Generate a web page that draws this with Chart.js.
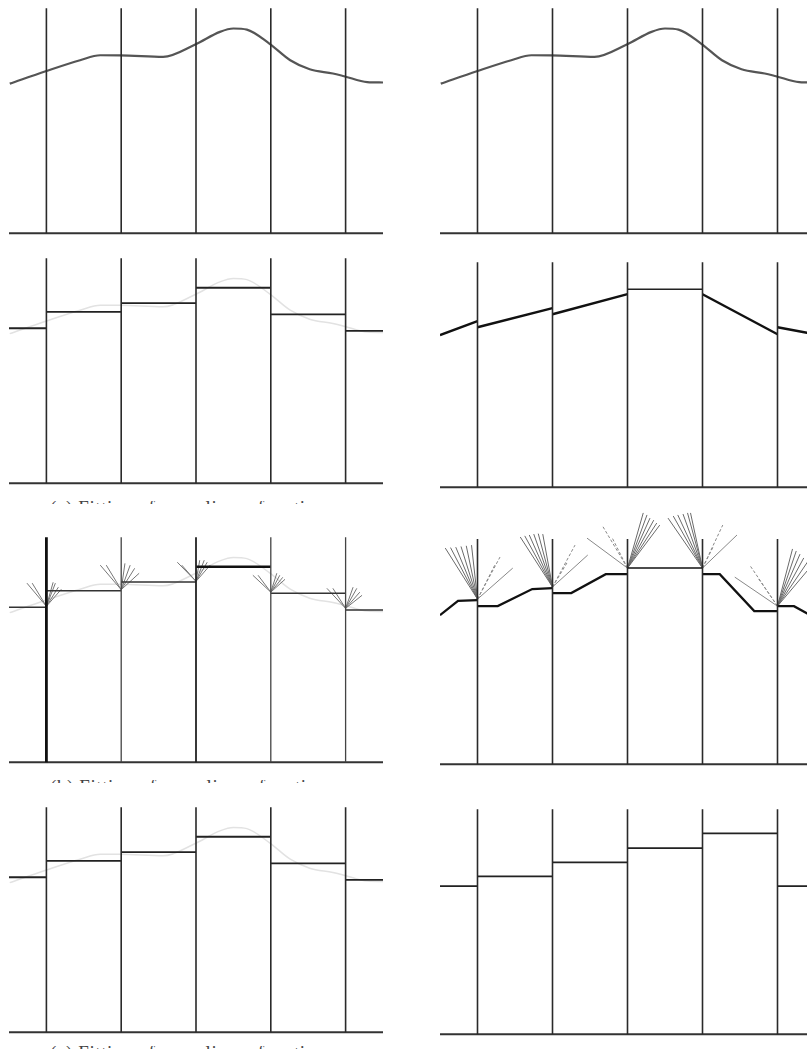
<!DOCTYPE html>
<html>
<head>
<meta charset="utf-8">
<script src="https://cdn.jsdelivr.net/npm/chart.js@4.4.0/dist/chart.umd.min.js"></script>
<style>
  html, body { margin: 0; padding: 0; background: #fff; }
  body { width: 807px; height: 1055px; position: relative; overflow: hidden; }
  canvas { position: absolute; }
  .cap { position: absolute; left: 50px; width: 290px; height: 3px; overflow: hidden; }
  .cap span { display: block; margin-top: -3px; font: 19px "Liberation Serif", serif; color: #444; line-height: 19px; white-space: nowrap; letter-spacing: 0.6px; }
</style>
</head>
<body>
<div class="cap" style="top:501px"><span>(a) Fitting of a nonlinear function</span></div>
<div class="cap" style="top:780px"><span>(b) Fitting of a nonlinear function</span></div>
<div class="cap" style="top:1046px"><span>(c) Fitting of a nonlinear function</span></div>
<script>
// --- data ---
const breaks = [1, 2, 3, 4, 5];
const edges = [0.5, 1, 2, 3, 4, 5, 5.5];
const lineTop = 10;

// smooth signal (top row, faint copy behind the left fits)
const curveX = [0.51, 0.99, 1.45, 1.72, 1.98, 2.56, 2.99, 3.32, 3.5, 3.68, 3.98, 4.26, 4.52, 4.83, 4.98, 5.29, 5.5];
const curveY = [6.65, 7.2, 7.69, 7.91, 7.91, 7.84, 8.39, 8.95, 9.1, 9.05, 8.43, 7.69, 7.29, 7.1, 6.98, 6.72, 6.7];

// left column: piecewise constant level per interval
const stepLevels = [6.89, 7.62, 8.01, 8.69, 7.51, 6.77];

// right column, 2nd row: piecewise linear (start / end per interval)
const linStart = [6.76, 7.11, 7.69, 8.8, 8.58, 7.11];
const linEnd = [7.38, 7.96, 8.58, 8.8, 6.8, 6.8];

// right column, 3rd row: flat-slope-flat pieces per interval
const quantX = [
  [0.5, 0.74, 1],
  [1, 1.27, 1.73, 2],
  [2, 2.25, 2.71, 3],
  [3, 4],
  [4, 4.23, 4.69, 5],
  [5, 5.22, 5.5]
];
const quantY = [
  [6.62, 7.25, 7.29],
  [7.02, 7.02, 7.78, 7.82],
  [7.6, 7.6, 8.44, 8.44],
  [8.71, 8.71],
  [8.44, 8.44, 6.8, 6.8],
  [7.02, 7.02, 6.5]
];

// right column, 4th row: constant levels
const stepLevelsR4 = [6.58, 7.02, 7.64, 8.27, 8.93, 6.58];

// fans on the left 3rd row (origin height + ends)
const fanLOrigin = [6.93, 7.67, 8.04, 7.56, 6.84];
const fanLEndX = [
  [0.74, 0.81, 1.09, 1.12, 1.16, 1.2],
  [1.72, 1.8, 2.05, 2.12, 2.18, 2.24],
  [2.75, 2.81, 3.05, 3.11, 3.15, 3.19],
  [3.76, 3.83, 4.08, 4.12, 4.16, 4.19],
  [4.75, 4.83, 5.1, 5.15, 5.19, 5.22]
];
const fanLEndY = [
  [7.96, 7.96, 8.0, 7.96, 7.78, 7.69],
  [8.76, 8.76, 8.84, 8.76, 8.62, 8.4],
  [8.89, 8.76, 8.98, 8.98, 8.89, 8.76],
  [8.31, 8.31, 8.4, 8.31, 8.22, 8.13],
  [7.73, 7.73, 7.78, 7.73, 7.56, 7.42]
];

// fans on the right 3rd row: bundle, two dashed rays, one solid ray
const fanROrigin = [7.33, 7.87, 8.71, 8.71, 7.02];
const bundleX = [
  [0.57, 0.64, 0.71, 0.78, 0.85, 0.92],
  [1.57, 1.63, 1.69, 1.75, 1.81, 1.87],
  [3.21, 3.26, 3.3, 3.35, 3.39, 3.43],
  [3.54, 3.61, 3.67, 3.74, 3.8, 3.84],
  [5.2, 5.25, 5.3, 5.35, 5.4, 5.45]
];
const bundleY = [
  [9.6, 9.62, 9.64, 9.67, 9.7, 9.73],
  [10.09, 10.14, 10.18, 10.22, 10.24, 10.22],
  [11.16, 11.07, 10.93, 10.84, 10.71, 10.62],
  [10.93, 11.02, 11.07, 11.11, 11.16, 11.16],
  [9.56, 9.47, 9.33, 9.16, 8.98, 8.8]
];
const dashX = [[1.23, 1.3], [2.2, 2.3], [2.66, 2.79], [4.14, 4.27], [4.63, 4.74]];
const dashY = [[8.84, 9.2], [8.98, 9.73], [10.62, 10.09], [9.64, 10.62], [8.84, 8.27]];
const rayX = [1.47, 2.47, 2.46, 4.46, 4.43];
const rayY = [8.71, 9.29, 10.04, 10.18, 8.31];

// --- helpers ---
const UNIT = 22.5;
const Y_MIN = -0.3;

function line(data, color, width, extra) {
  return Object.assign({
    data: data, showLine: true, pointRadius: 0, borderColor: color,
    borderWidth: width, fill: false, tension: 0, spanGaps: false
  }, extra || {});
}

function segs(list) {
  // list of [x1, y1, x2, y2] -> points with gaps
  return list.flatMap(s => [{ x: s[0], y: s[1] }, { x: s[2], y: s[3] }, { x: s[2], y: null }]);
}

function verticals(color, width) {
  return line(segs(breaks.map(b => [b, 0, b, lineTop])), color, width);
}
function baseline() {
  return line([{ x: edges[0], y: 0 }, { x: edges[edges.length - 1], y: 0 }], '#333', 2);
}
function curve(color, width) {
  return line(curveX.map((x, i) => ({ x: x, y: curveY[i] })), color, width, { cubicInterpolationMode: 'monotone' });
}
function steps(levels, color, width) {
  return line(segs(levels.map((v, i) => [edges[i], v, edges[i + 1], v])), color, width);
}

function drawPanel(p, datasets) {
  const c = document.createElement('canvas');
  const top = p.base - p.yMax * UNIT;
  c.width = p.width;
  c.height = Math.round((p.yMax - Y_MIN) * UNIT);
  c.style.left = p.left + 'px';
  c.style.top = top + 'px';
  document.body.appendChild(c);
  new Chart(c, {
    type: 'scatter',
    data: { datasets: datasets },
    options: {
      responsive: false,
      animation: false,
      events: [],
      layout: { padding: 0 },
      plugins: { legend: { display: false }, tooltip: { enabled: false } },
      scales: {
        x: { type: 'linear', display: false, min: 0.5, max: 5.5 },
        y: { display: false, min: Y_MIN, max: p.yMax }
      }
    }
  });
}

const L = { left: 9, width: 374 };
const R = { left: 440, width: 375 };

// row 1: smooth signal
drawPanel({ ...L, base: 233, yMax: 10.5 }, [verticals('#2a2a2a', 1.6), baseline(), curve('#555', 2.2)]);
drawPanel({ ...R, base: 233, yMax: 10.5 }, [verticals('#2a2a2a', 1.6), baseline(), curve('#555', 2.2)]);

// row 2
drawPanel({ ...L, base: 483, yMax: 10.5 }, [
  verticals('#2a2a2a', 1.6), baseline(), steps(stepLevels, '#222', 1.8), curve('#e2e2e2', 1.5)
]);
drawPanel({ ...R, base: 487, yMax: 10.5 }, [
  verticals('#2a2a2a', 1.6), baseline(),
  line(segs(linStart.map((v, i) => [edges[i], v, edges[i + 1], linEnd[i]]).filter((s, i) => i !== 3)), '#111', 2.4),
  line([{ x: edges[3], y: linStart[3] }, { x: edges[4], y: linEnd[3] }], '#222', 1.5)
]);

// row 3: fans
const fanSegsL = fanLOrigin.flatMap((o, i) => fanLEndX[i].map((ex, j) => [breaks[i], o, ex, fanLEndY[i][j]]));
drawPanel({ ...L, base: 762, yMax: 10.5 }, [
  line(segs([[1, 0, 1, lineTop]]), '#111', 2.8),
  line(segs([[3, 0, 3, lineTop]]), '#222', 1.8),
  line(segs([[2, 0, 2, lineTop], [4, 0, 4, lineTop], [5, 0, 5, lineTop]]), '#444', 1.3),
  baseline(),
  line(segs(stepLevels.map((v, i) => [edges[i], v, edges[i + 1], v]).filter((s, i) => i !== 3)), '#333', 1.6),
  line([{ x: edges[3], y: stepLevels[3] }, { x: edges[4], y: stepLevels[3] }], '#111', 2.6),
  line(segs(fanSegsL), '#777', 1),
  curve('#e2e2e2', 1.5)
]);

const bundleSegs = fanROrigin.flatMap((o, i) => bundleX[i].map((ex, j) => [breaks[i], o, ex, bundleY[i][j]]));
const dashSegs = fanROrigin.flatMap((o, i) => dashX[i].map((ex, j) => [breaks[i], o, ex, dashY[i][j]]));
const raySegs = fanROrigin.map((o, i) => [breaks[i], o, rayX[i], rayY[i]]);
drawPanel({ ...R, base: 764, yMax: 11.6 }, [
  verticals('#2a2a2a', 1.6), baseline(),
  ...quantX.map((xs, i) => line(xs.map((x, j) => ({ x: x, y: quantY[i][j] })), '#111', i === 3 ? 1.5 : 2.3)),
  line(segs(bundleSegs), '#6a6a6a', 1),
  line(segs(dashSegs), '#888', 1, { borderDash: [3, 2] }),
  line(segs(raySegs), '#888', 1)
]);

// row 4
drawPanel({ ...L, base: 1032, yMax: 10.5 }, [
  verticals('#2a2a2a', 1.6), baseline(), steps(stepLevels, '#222', 1.8), curve('#e2e2e2', 1.5)
]);
drawPanel({ ...R, base: 1034, yMax: 10.5 }, [
  verticals('#2a2a2a', 1.6), baseline(), steps(stepLevelsR4, '#222', 1.8)
]);
</script>
</body>
</html>
